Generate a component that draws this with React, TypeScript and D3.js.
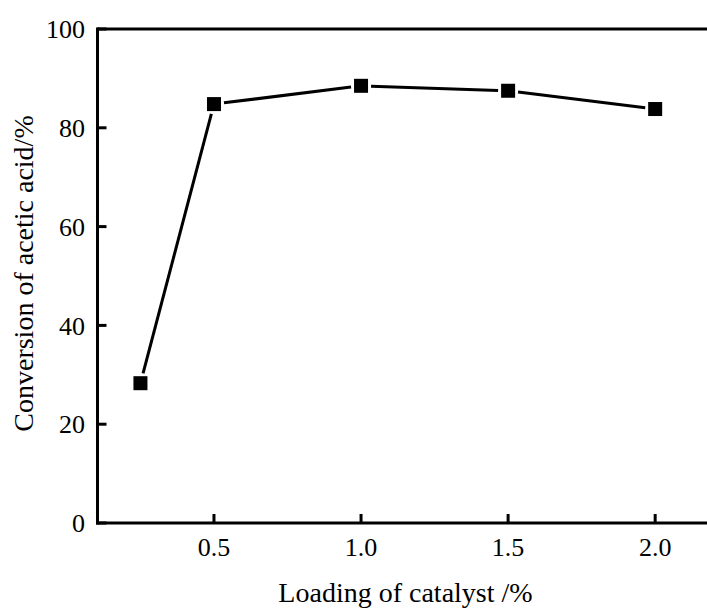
import React from "react";
import * as d3 from "d3";

const loading = [0.25, 0.5, 1.0, 1.5, 2.0];
const conversion = [28.3, 84.8, 88.5, 87.5, 83.8];
const xTicks = [0.5, 1.0, 1.5, 2.0];
const xTickLabels = ["0.5", "1.0", "1.5", "2.0"];
const yTicks = [0, 20, 40, 60, 80, 100];
const xTitle = "Loading of catalyst /%";
const yTitle = "Conversion of acetic acid/%";

export default function App() {
  const W = 707, H = 608;
  const left = 97.5, right = 714, top = 29, bottom = 523;
  const x = d3.scaleLinear().domain([0.104, 2.2]).range([left, right]);
  const y = d3.scaleLinear().domain([0, 100]).range([bottom, top]);
  const fontStyle = { fontFamily: '"Liberation Serif", "Times New Roman", serif' };
  const ms = 14;
  const pts = loading.map((v, i) => [x(v), y(conversion[i])]);
  const segs = pts.slice(1).map((p, i) => {
    const a = pts[i];
    const dx = p[0] - a[0], dy = p[1] - a[1];
    const len = Math.hypot(dx, dy);
    const ux = dx / len, uy = dy / len;
    const t = (ms / 2) / Math.max(Math.abs(ux), Math.abs(uy)) + 3;
    return [a[0] + ux * t, a[1] + uy * t, p[0] - ux * t, p[1] - uy * t];
  });
  return (
    <svg width={W} height={H} style={{ position: "absolute", left: 0, top: 0, background: "#fff" }}>
      <rect x={0} y={0} width={W} height={H} fill="#fff" />
      <line x1={left} x2={W + 5} y1={top} y2={top} stroke="#000" strokeWidth={3} />
      <line x1={left} x2={left} y1={top - 1.5} y2={bottom + 1.5} stroke="#000" strokeWidth={3} />
      <line x1={left - 1.5} x2={W + 5} y1={bottom} y2={bottom} stroke="#000" strokeWidth={3} />
      {yTicks.map((t) => (
        <g key={"y" + t}>
          <line x1={left} x2={left + 9} y1={y(t)} y2={y(t)} stroke="#000" strokeWidth={3} />
          <text x={85} y={y(t)} dy="0.35em" textAnchor="end" style={fontStyle} fontSize={26} fill="#000">
            {t}
          </text>
        </g>
      ))}
      {xTicks.map((t, i) => (
        <g key={"x" + t}>
          <line x1={x(t)} x2={x(t)} y1={bottom} y2={bottom - 9} stroke="#000" strokeWidth={3} />
          <text x={x(t)} y={556} textAnchor="middle" style={fontStyle} fontSize={26} fill="#000">
            {xTickLabels[i]}
          </text>
        </g>
      ))}
      <text x={405.5} y={602} textAnchor="middle" style={fontStyle} fontSize={28} fill="#000">
        {xTitle}
      </text>
      <text
        transform={`translate(33, 273.5) rotate(-90)`}
        textAnchor="middle"
        style={fontStyle}
        fontSize={28}
        fill="#000"
      >
        {yTitle}
      </text>
      {segs.map((s, i) => (
        <line key={"s" + i} x1={s[0]} y1={s[1]} x2={s[2]} y2={s[3]} stroke="#000" strokeWidth={3} />
      ))}
      {pts.map((p, i) => (
        <rect key={"p" + i} x={p[0] - ms / 2} y={p[1] - ms / 2} width={ms} height={ms} fill="#000" />
      ))}
    </svg>
  );
}
